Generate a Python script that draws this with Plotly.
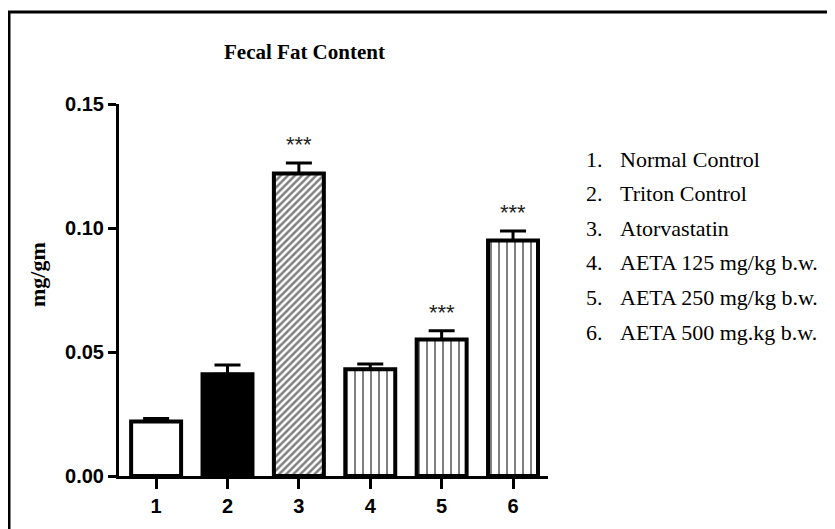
import plotly.graph_objects as go

# ---- data ----
groups = ["1", "2", "3", "4", "5", "6"]
means = [0.022, 0.041, 0.122, 0.043, 0.055, 0.095]
sems = [0.0012, 0.0038, 0.0042, 0.0022, 0.0036, 0.0038]
signif = ["", "", "***", "", "***", "***"]
legend_labels = [
    "Normal Control",
    "Triton Control",
    "Atorvastatin",
    "AETA 125 mg/kg b.w.",
    "AETA 250 mg/kg b.w.",
    "AETA 500 mg.kg b.w.",
]
y_ticks = [0.0, 0.05, 0.10, 0.15]
y_tick_labels = ["0.00", "0.05", "0.10", "0.15"]

# ---- styles ----
fill_colors = ["white", "black", "white", "white", "white", "white"]
pat_shapes = ["", "", "/", "|", "|", "|"]
pat_sizes = [8, 8, 5, 8, 8, 8]
pat_solid = [0.2, 0.2, 0.5, 0.25, 0.25, 0.25]

OFF = 8  # page body margin
W, H = 835 - OFF, 529 - OFF
# target pixel positions in the screenshot
L, R, T, B = 119, 548, 104, 476


def px(x):
    return (x - L) / (R - L)


def py(y):
    return (B - y) / (B - T)


xs = [int(g) for g in groups]

fig = go.Figure()
for i, (x, m, e) in enumerate(zip(xs, means, sems)):
    marker = dict(color=fill_colors[i], line=dict(color="black", width=4))
    if pat_shapes[i]:
        marker["pattern"] = dict(shape=pat_shapes[i], size=pat_sizes[i],
                                 solidity=pat_solid[i], fgcolor="black",
                                 bgcolor="white", fillmode="overlay")
    fig.add_trace(go.Bar(
        x=[x], y=[m], width=0.70, marker=marker,
        error_y=dict(type="data", symmetric=False, array=[e],
                     arrayminus=[0], color="black", thickness=3, width=13),
        showlegend=False,
    ))

annotations = []
for x, m, e, s in zip(xs, means, sems, signif):
    if s:
        annotations.append(dict(x=x, y=m + e, xref="x", yref="y", text=s,
                                showarrow=False, yanchor="bottom", yshift=4,
                                font=dict(family="Liberation Sans", size=22,
                                          color="#222")))

# title
annotations.append(dict(x=px(304), y=py(52), xref="paper", yref="paper",
                        text="<b>Fecal Fat Content</b>", showarrow=False,
                        xanchor="center", yanchor="middle",
                        font=dict(family="Liberation Serif", size=21,
                                  color="black")))
# y-axis title
annotations.append(dict(x=px(37), y=py(275), xref="paper", yref="paper",
                        text="<b>mg/gm</b>", showarrow=False, textangle=-90,
                        xanchor="center", yanchor="middle",
                        font=dict(family="Liberation Serif", size=22,
                                  color="black")))
# legend list
for i, lab in enumerate(legend_labels):
    yy = 159 + i * 34.6
    annotations.append(dict(x=px(584), y=py(yy), xref="paper", yref="paper",
                            text=f"{i + 1}.", showarrow=False,
                            xanchor="left", yanchor="middle",
                            font=dict(family="Liberation Serif", size=22,
                                      color="black")))
    annotations.append(dict(x=px(618), y=py(yy), xref="paper", yref="paper",
                            text=lab, showarrow=False,
                            xanchor="left", yanchor="middle",
                            font=dict(family="Liberation Serif", size=22,
                                      color="black")))

shapes = [
    dict(type="line", xref="paper", yref="paper", x0=px(9), x1=px(9),
         y0=py(11), y1=py(540), line=dict(color="black", width=3)),
    dict(type="line", xref="paper", yref="paper", x0=px(8), x1=px(845),
         y0=py(12), y1=py(12), line=dict(color="black", width=3)),
]

tick_font = dict(family="Liberation Sans", size=20,
                 color="black", weight="bold")

fig.update_layout(
    width=W, height=H,
    margin=dict(l=L - OFF, r=W - (R - OFF), t=T - OFF, b=H - (B - OFF),
                pad=0),
    paper_bgcolor="white", plot_bgcolor="white",
    annotations=annotations, shapes=shapes,
    barmode="overlay",
    xaxis=dict(range=[0.48, 6.49], tickvals=xs, ticktext=groups,
               showline=True, linecolor="black", linewidth=3,
               ticks="outside", ticklen=10, tickwidth=3, tickcolor="black",
               showgrid=False, zeroline=False, tickfont=tick_font),
    yaxis=dict(range=[0, 0.15], tickvals=y_ticks, ticktext=y_tick_labels,
               showline=True, linecolor="black", linewidth=3,
               ticks="outside", ticklen=8, tickwidth=3, tickcolor="black",
               showgrid=False, zeroline=False, tickfont=tick_font),
)

fig.write_html("out.html")
